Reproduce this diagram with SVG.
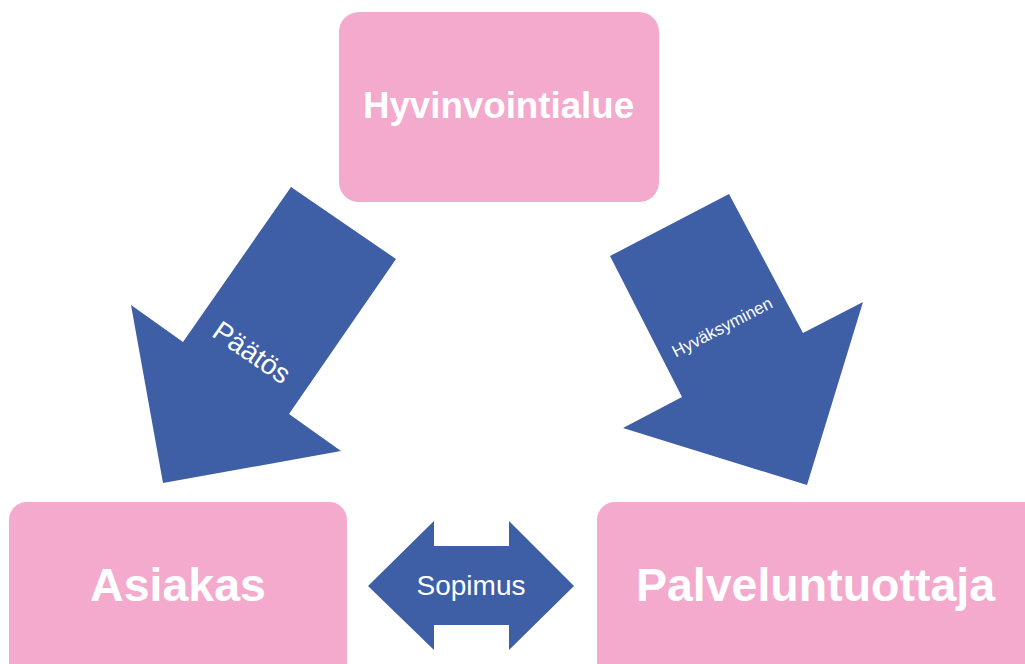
<svg xmlns="http://www.w3.org/2000/svg" width="1025" height="664" viewBox="0 0 1025 664">
<style>
.box{fill:#F3AACD}
.arr{fill:#3E5EA6}
.bt{font-family:"Liberation Sans",Arial,sans-serif;font-weight:bold;fill:#ffffff;text-anchor:middle}
.at{font-family:"Liberation Sans",Arial,sans-serif;fill:#ffffff;text-anchor:middle}
</style>
<rect width="1025" height="664" fill="#ffffff"/>
<g id="connectors">
<g id="arrow-paatos">
<polygon class="arr" points="291,187 396,259 289,414 341,451 163,483 131,305 183,342"/>
<text class="at" font-size="28" transform="translate(252,352) rotate(34.5)" y="10">Päätös</text>
</g>
<g id="arrow-hyvaksyminen">
<polygon class="arr" points="610,256 729,194 803,333 863,302 807,485 623,428 682,397"/>
<text class="at" font-size="17" transform="translate(722,327) rotate(-27.5)" y="6">Hyväksyminen</text>
</g>
<g id="arrow-sopimus">
<polygon class="arr" points="368,586 434,521 434,546 509,546 509,521 574,586 509,650 509,625 434,625 434,650"/>
<text class="at" font-size="28" x="471" y="595">Sopimus</text>
</g>
</g>
<g id="node-hyvinvointialue">
<rect class="box" x="339" y="12" width="320" height="190" rx="20" ry="20"/>
<text class="bt" font-size="36.7" x="498.5" y="118">Hyvinvointialue</text>
</g>
<g id="node-asiakas">
<rect class="box" x="9" y="502" width="338" height="190" rx="18" ry="18"/>
<text class="bt" font-size="46.5" x="178" y="601">Asiakas</text>
</g>
<g id="node-palveluntuottaja">
<rect class="box" x="597" y="502" width="450" height="190" rx="18" ry="18"/>
<text class="bt" font-size="46.5" x="815.5" y="601">Palveluntuottaja</text>
</g>
</svg>
